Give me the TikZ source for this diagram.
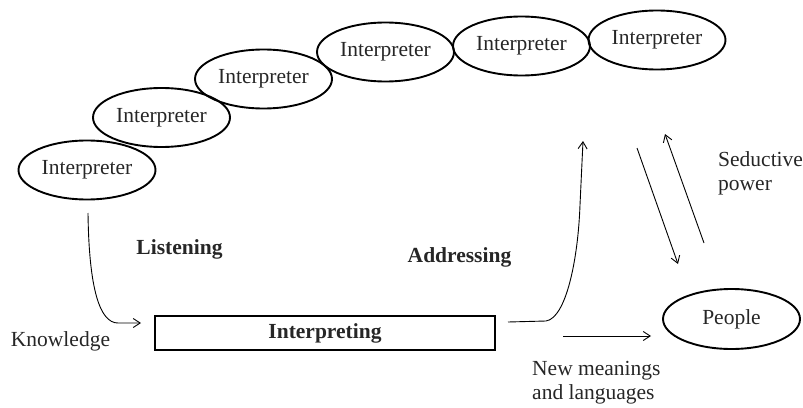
\documentclass[tikz,border=0pt]{standalone}
\usepackage{fontspec}
\setmainfont{Liberation Serif}
\usetikzlibrary{shapes.geometric,arrows.meta}
\begin{document}
\begin{tikzpicture}[x=1pt,y=-1pt,
  every node/.style={font=\fontsize{21.5}{24}\selectfont, text=black!85},
  interp/.style={draw, ellipse, line width=1.9pt, inner sep=0pt,
                 minimum width=137pt, minimum height=59pt},
  procbox/.style={draw, line width=1.3pt, inner sep=0pt,
                  minimum width=340pt, minimum height=34pt},
  flow/.style={line width=0.9pt, -{Straight Barb[length=7pt,width=9pt]}},
  plainlabel/.style={align=left, inner sep=0pt},
  boldlabel/.style={font=\fontsize{21.5}{24}\selectfont\bfseries, inner sep=0pt}]
\useasboundingbox (0,0) rectangle (803,407);

% the staircase of interpreters
\node[interp] (i1) at (87,170)   {Interpreter};
\node[interp] (i2) at (161.5,117.5) {Interpreter};
\node[interp] (i3) at (263.5,79) {Interpreter};
\node[interp] (i4) at (385.5,52) {Interpreter};
\node[interp] (i5) at (521.5,46) {Interpreter};
\node[interp] (i6) at (657,40)   {Interpreter};

% central process and audience
\node[procbox] (proc) at (325,333) {\bfseries Interpreting};
\node[interp, minimum width=137pt, minimum height=60pt] (people) at (731.5,319) {People};

% labels
\node[boldlabel] (listen) at (179.5,249) {Listening};
\node[boldlabel] (address) at (459.5,257) {Addressing};
\node[plainlabel] (know) at (60.5,341) {Knowledge};
\node[plainlabel, anchor=north west] (newmean) at (532,361) {New meanings\\and languages};
\node[plainlabel, anchor=north west] (seduce) at (718,151) {Seductive\\power};

% free ends of the connectors
\coordinate (kstart) at (88,213);
\coordinate (kend) at (141,323);
\coordinate (astart) at (508,322);
\coordinate (aend) at (583,141);
\coordinate (dstart) at (637,148);
\coordinate (dend) at (678,264);
\coordinate (ustart) at (704,243);
\coordinate (uend) at (665,134);
\coordinate (nstart) at (563,336);
\coordinate (nend) at (651,336);

% listening: from the interpreters down into interpreting
\draw[flow] (kstart) .. controls (89,290) and (100,323) .. (118,323) -- (kend);
% addressing: from interpreting up towards the interpreters
\draw[flow] (astart) -- (546,321) .. controls (566,318) and (578,260) .. (580,205) -- (aend);
% exchange with the people
\draw[flow] (dstart) -- (dend);
\draw[flow] (ustart) -- (uend);
\draw[flow] (nstart) -- (nend);
\end{tikzpicture}
\end{document}
